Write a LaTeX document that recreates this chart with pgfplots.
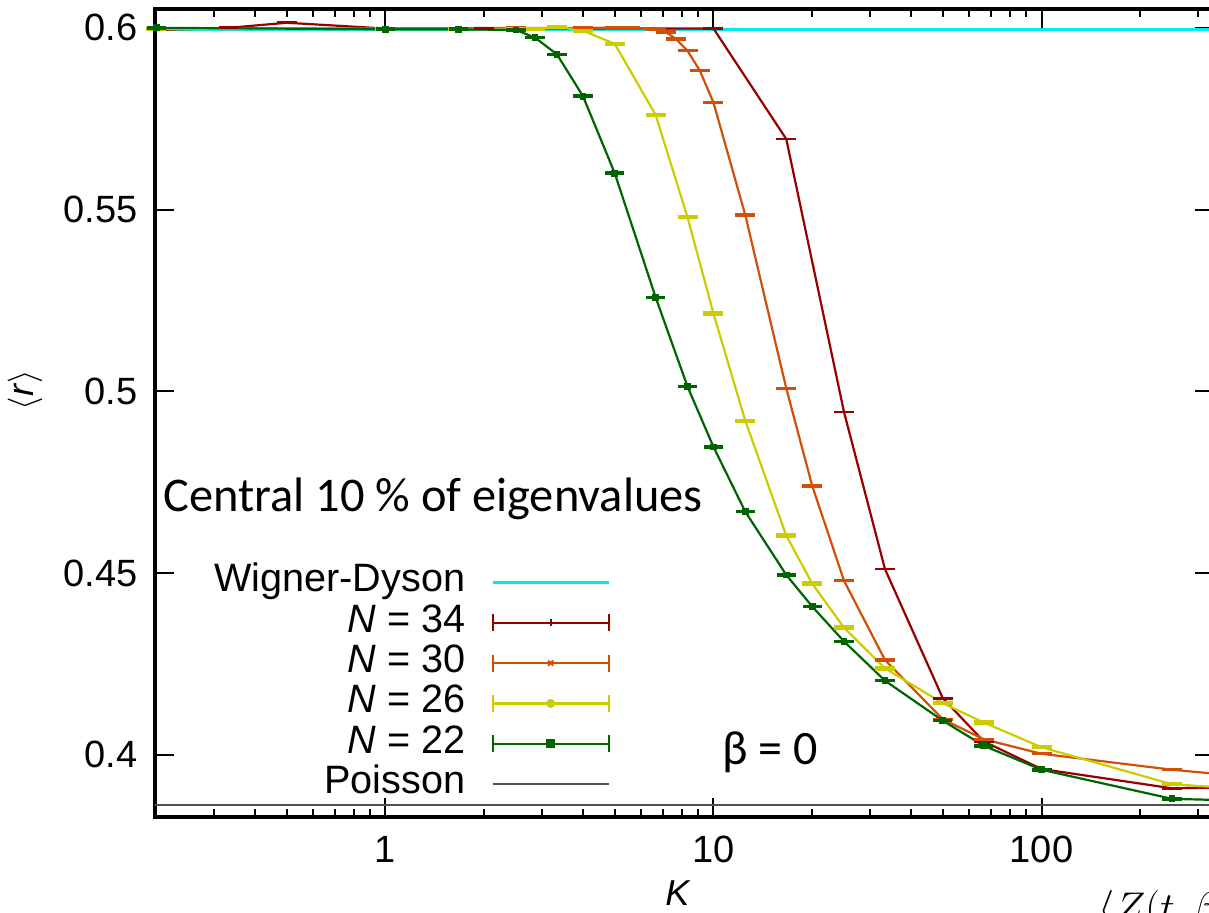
\documentclass[border=0pt]{standalone}
\usepackage{fontspec}
\setmainfont{Liberation Sans}
\newfontfamily\carlito{Carlito}
\usepackage{pgfplots}
\pgfplotsset{compat=1.18}
\definecolor{cRed}{RGB}{150,0,0}
\definecolor{cOrange}{RGB}{208,80,10}
\definecolor{cYellow}{RGB}{204,204,0}
\definecolor{cGreen}{RGB}{0,100,0}
\definecolor{cCyan}{RGB}{0,235,235}
\definecolor{cGray}{RGB}{80,80,80}
\pgfdeclareplotmark{hbar}{%
  \pgfpathmoveto{\pgfqpoint{-\pgfplotmarksize}{0pt}}%
  \pgfpathlineto{\pgfqpoint{\pgfplotmarksize}{0pt}}%
  \pgfusepathqstroke}
\pgfdeclareplotmark{hbarsq}{%
  \pgfpathmoveto{\pgfqpoint{-\pgfplotmarksize}{0pt}}%
  \pgfpathlineto{\pgfqpoint{\pgfplotmarksize}{0pt}}%
  \pgfusepathqstroke
  \pgfpathrectangle{\pgfqpoint{-1.7pt}{-1.7pt}}{\pgfqpoint{3.4pt}{3.4pt}}%
  \pgfusepathqfill}
\pgfplotsset{
  legLine/.style={legend image code/.code={\draw[##1] (0pt,0pt) -- (58pt,0pt);}},
  legErr/.style={legend image code/.code={
    \draw[##1, mark=none] (0pt,0pt) -- (58pt,0pt) (0pt,-4.25pt) -- (0pt,4.25pt) (58pt,-4.25pt) -- (58pt,4.25pt);
    \draw[##1, mark=#1, mark size=1.8pt, mark options={line width=0.9pt}] plot coordinates {(29pt,0pt)};}},
}
\begin{document}
\begin{tikzpicture}
\begin{axis}[
  at={(77.5pt,-408.5pt)}, anchor=south west,
  scale only axis, width=529.5pt, height=403.85pt,
  xmode=log, xmin=0.1983, xmax=335.7, ymin=0.3829, ymax=0.6051,
  axis line style={line width=1.8pt},
  every tick/.style={black, line width=1pt},
  major tick length=9.5pt, minor tick length=4pt,
  tick align=inside, tick pos=both,
  xtick={1,10,100}, xticklabels={1,10,100},
  minor xtick={0.2,0.3,0.4,0.5,0.6,0.7,0.8,0.9,2,3,4,5,6,7,8,9,20,30,40,50,60,70,80,90,200,300},
  ytick={0.4,0.45,0.5,0.55,0.6}, yticklabels={0.4,0.45,0.5,0.55,0.6},
  tick label style={font=\fontsize{19}{22}\selectfont, inner sep=0pt},
  xticklabel style={anchor=north, yshift=-9.5pt},
  yticklabel style={anchor=east, xshift=-8.5pt},
  legend cell align=right, legend plot pos=right,
  legend style={at={(0.4297,0.3133)}, anchor=north east, draw=none, fill=none,
    inner sep=0pt, outer sep=0pt, row sep=1.66pt, column sep=13pt,
    font=\fontsize{19.8}{23}\selectfont,
    nodes={inner sep=0pt, text height=14pt, text depth=4.5pt}},
]
\addplot[cCyan, line width=1.4pt, legLine]
  coordinates {(0.1,0.5996) (1000,0.5996)};
\addlegendentry{Wigner-Dyson}

\addplot[cRed, line width=1.1pt, mark=hbar, mark size=5pt, mark options={line width=1.4pt}, legErr=+]
  coordinates {(0.2,0.5994) (0.3333,0.6000) (0.5,0.6014) (1,0.5998) (2,0.5999) (5,0.5998) (10,0.5998) (16.67,0.5694) (25,0.4943) (33.33,0.4511) (50,0.4156) (66.67,0.4037) (100,0.3961) (250,0.3908) (500,0.3912)};
\addlegendentry{\textit{N} = 34}

\addplot[cOrange, line width=1.1pt, mark=hbar, mark size=5pt, mark options={line width=1.7pt}, legErr=x]
  coordinates {(0.2,0.5998) (1,0.5998) (2.5,0.6000) (3.333,0.5999) (4,0.6000) (5,0.6000) (5.556,0.6000) (6.25,0.5998) (6.667,0.5996) (7.143,0.5989) (7.692,0.5969) (8.333,0.5937) (9.091,0.5882) (10,0.5794) (12.5,0.5485) (16.67,0.5008) (20,0.4740) (25,0.4479) (33.33,0.4261) (50,0.4098) (66.67,0.4043) (100,0.4003) (250,0.3959) (500,0.3934)};
\addlegendentry{\textit{N} = 30}

\addplot[cYellow, line width=1.1pt, mark=hbar, mark size=5pt, mark options={line width=2.2pt}, legErr=*]
  coordinates {(0.2,0.5997) (1,0.5997) (1.667,0.5997) (2.5,0.5997) (2.857,0.5997) (3.333,0.6003) (4,0.5992) (5,0.5956) (6.667,0.5760) (8.333,0.5479) (10,0.5214) (12.5,0.4919) (16.67,0.4603) (20,0.4471) (25,0.4350) (33.33,0.4238) (50,0.4142) (66.67,0.4089) (100,0.4021) (250,0.3919) (500,0.3902)};
\addlegendentry{\textit{N} = 26}

\addplot[cGreen, line width=1.1pt, mark=hbarsq, mark size=4.8pt, mark options={line width=1.8pt}, legErr=square*]
  coordinates {(0.2,0.6000) (1,0.5996) (1.667,0.5996) (2.5,0.5994) (2.857,0.5973) (3.333,0.5927) (4,0.5812) (5,0.5600) (6.667,0.5258) (8.333,0.5013) (10,0.4847) (12.5,0.4669) (16.67,0.4495) (20,0.4408) (25,0.4312) (33.33,0.4204) (50,0.4094) (66.67,0.4025) (100,0.3959) (250,0.3879) (500,0.3872)};
\addlegendentry{\textit{N} = 22}

\addplot[cGray, line width=1pt, legLine]
  coordinates {(0.1,0.3863) (1000,0.3863)};
\addlegendentry{Poisson}
\end{axis}
\node[rotate=90, inner sep=0pt, font=\fontsize{18}{21}\selectfont] at (12.5pt,-195pt) {$\langle$\textit{r}$\rangle$};
\node[inner sep=0pt, font=\fontsize{18}{21}\selectfont] at (339pt,-446.5pt) {\textit{K}};
\node[anchor=base west, inner sep=0pt, font=\carlito\fontsize{24.2}{28}\selectfont] at (81.5pt,-256pt) {Central 10 \% of eigenvalues};
\node[anchor=base west, inner sep=0pt, font=\carlito\fontsize{24}{28}\selectfont] at (361pt,-382pt) {β = 0};
\node[anchor=north west, inner sep=0pt, font=\fontsize{20}{24}\selectfont] at (549pt,-445pt) {$\langle Z(t,\beta)\rangle$};
\pgfresetboundingbox
\useasboundingbox (0pt,0pt) rectangle (604.5pt,-456.5pt);
\end{tikzpicture}
\end{document}
